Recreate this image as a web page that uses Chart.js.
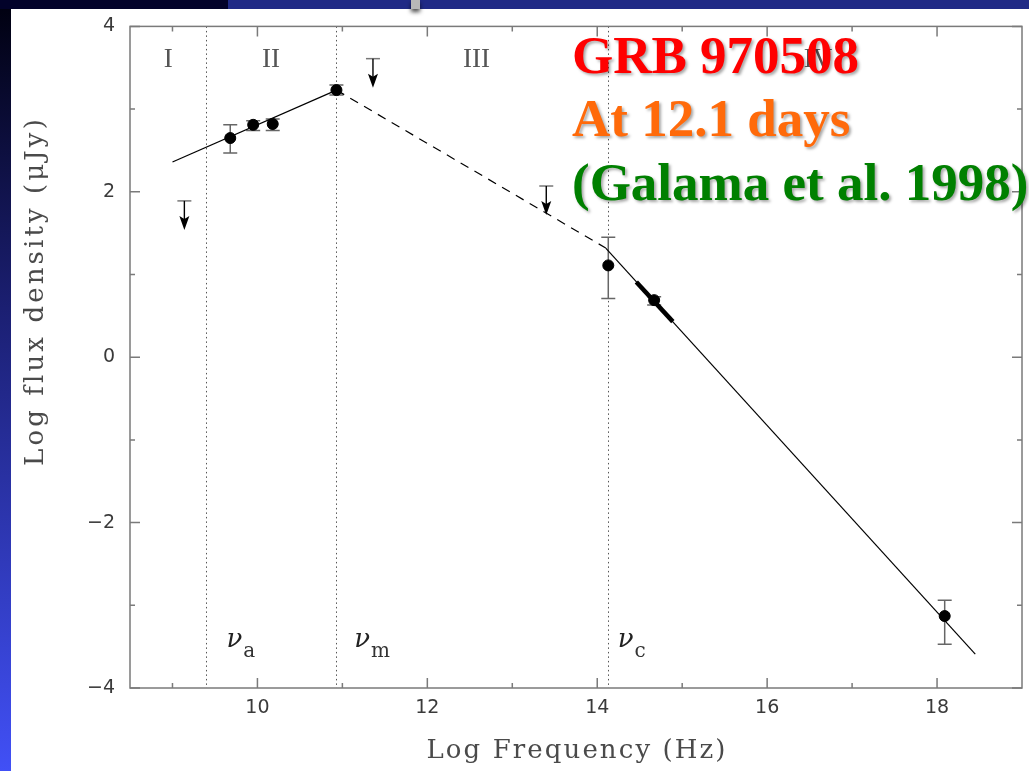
<!DOCTYPE html>
<html>
<head>
<meta charset="utf-8">
<title>GRB 970508 spectrum</title>
<script src="https://cdn.jsdelivr.net/npm/chart.js@4.4.1/dist/chart.umd.min.js"></script>
<style>
  body { margin: 0; background: #fff; }
  #wrap { position: relative; width: 1029px; height: 771px; }
</style>
</head>
<body>
<div id="wrap"><canvas id="sed" width="1029" height="771"></canvas></div>
<script>
"use strict";

// detections: log frequency, log flux and the ends of the error bars
var logNu   = [9.68, 9.95, 10.18, 10.93, 14.13, 14.67, 18.09];
var logFlux = [2.65, 2.81, 2.82, 3.23, 1.11, 0.69, -3.13];
var errLow  = [2.47, 2.74, 2.74, 3.17, 0.71, 0.63, -3.47];
var errHigh = [2.81, 2.86, 2.88, 3.29, 1.45, 0.73, -2.94];

// upper limits
var limNu   = [9.14, 11.36, 13.40];
var limFlux = [1.89, 3.61, 2.07];

// broken power law fit
var fitLowNu   = [9.00, 10.93];
var fitLowF    = [2.36, 3.23];
var fitMidNu   = [10.93, 14.10];
var fitMidF    = [3.23, 1.32];
var fitHighNu  = [14.10, 18.45];
var fitHighF   = [1.32, -3.59];
var opticalNu  = [14.46, 14.89];
var opticalF   = [0.91, 0.43];

// break frequencies and labels
var breakNu    = [9.40, 10.93, 14.13];
var breakNames = ['a', 'm', 'c'];
var breakLabelNu = [9.635, 11.14, 14.24];
var regionNames = ['I', 'II', 'III', 'IV'];
var regionNu    = [8.95, 10.16, 12.58, 16.6];

var xTicks = [9, 10, 11, 12, 13, 14, 15, 16, 17, 18];
var yTicks = [-4, -3, -2, -1, 0, 1, 2, 3, 4];

function pairs(xs, ys) {
    var out = [];
    for (var i = 0; i < xs.length; i++) {
        out.push({ x: xs[i], y: ys[i] });
    }
    return out;
}

function tickText(v) {
    if (v % 2 !== 0) return '';
    return v < 0 ? '\u2212' + Math.abs(v) : String(v);
}

var sedDecor = {
    id: 'sedDecor',
    beforeDraw: function(chart) {
        var ctx = chart.ctx;
        ctx.save();
        ctx.fillStyle = '#fff';
        ctx.fillRect(0, 0, 1029, 771);
        var g = ctx.createLinearGradient(0, 0, 0, 771);
        g.addColorStop(0, '#00000f');
        g.addColorStop(0.4, '#1b1f72');
        g.addColorStop(1, '#4150f6');
        ctx.fillStyle = g;
        ctx.fillRect(0, 0, 11, 771);
        ctx.fillStyle = '#02022a';
        ctx.fillRect(0, 0, 228, 9);
        ctx.fillStyle = '#202a86';
        ctx.fillRect(228, 0, 801, 9);
        // bit of the slide graphic poking in at the top
        ctx.shadowColor = 'rgba(0,0,0,0.7)';
        ctx.shadowBlur = 4;
        ctx.shadowOffsetY = 3;
        ctx.fillStyle = '#b8b8b8';
        ctx.fillRect(411, 0, 9, 9);
        ctx.restore();
    },
    beforeDatasetsDraw: function(chart) {
        var ctx = chart.ctx;
        var xs = chart.scales.x, ys = chart.scales.y;
        var a = chart.chartArea;
        ctx.save();

        // break frequencies
        ctx.strokeStyle = '#555';
        ctx.lineWidth = 1;
        ctx.setLineDash([1.5, 3]);
        breakNu.forEach(function(v) {
            var px = Math.round(xs.getPixelForValue(v)) + 0.5;
            ctx.beginPath();
            ctx.moveTo(px, a.top);
            ctx.lineTo(px, a.bottom);
            ctx.stroke();
        });
        ctx.setLineDash([]);

        // frame and inward ticks
        ctx.strokeStyle = '#7a7a7a';
        ctx.lineWidth = 1.5;
        ctx.strokeRect(a.left, a.top, a.right - a.left, a.bottom - a.top);
        ctx.beginPath();
        xTicks.forEach(function(v) {
            var px = xs.getPixelForValue(v), len = v % 2 === 0 ? 10 : 5;
            ctx.moveTo(px, a.bottom); ctx.lineTo(px, a.bottom - len);
            ctx.moveTo(px, a.top); ctx.lineTo(px, a.top + len);
        });
        yTicks.forEach(function(v) {
            var py = ys.getPixelForValue(v), len = v % 2 === 0 ? 10 : 5;
            ctx.moveTo(a.left, py); ctx.lineTo(a.left + len, py);
            ctx.moveTo(a.right, py); ctx.lineTo(a.right - len, py);
        });
        ctx.stroke();

        // error bars
        ctx.strokeStyle = '#666';
        ctx.lineWidth = 1.5;
        ctx.beginPath();
        for (var i = 0; i < logNu.length; i++) {
            var px = xs.getPixelForValue(logNu[i]);
            var lo = ys.getPixelForValue(errLow[i]);
            var hi = ys.getPixelForValue(errHigh[i]);
            ctx.moveTo(px, lo); ctx.lineTo(px, hi);
            ctx.moveTo(px - 7, lo); ctx.lineTo(px + 7, lo);
            ctx.moveTo(px - 7, hi); ctx.lineTo(px + 7, hi);
        }
        ctx.stroke();

        // upper limit arrows
        for (var j = 0; j < limNu.length; j++) {
            var ax = xs.getPixelForValue(limNu[j]);
            var ay = ys.getPixelForValue(limFlux[j]);
            ctx.strokeStyle = '#777';
            ctx.lineWidth = 1.5;
            ctx.beginPath();
            ctx.moveTo(ax - 7, ay); ctx.lineTo(ax + 7, ay);
            ctx.stroke();
            ctx.strokeStyle = '#000';
            ctx.lineWidth = 1.4;
            ctx.beginPath();
            ctx.moveTo(ax, ay); ctx.lineTo(ax, ay + 20);
            ctx.stroke();
            ctx.fillStyle = '#000';
            ctx.beginPath();
            ctx.moveTo(ax, ay + 29);
            ctx.lineTo(ax - 5, ay + 15);
            ctx.lineTo(ax, ay + 18);
            ctx.lineTo(ax + 5, ay + 15);
            ctx.closePath();
            ctx.fill();
        }
        ctx.restore();
    },
    afterDraw: function(chart) {
        var ctx = chart.ctx;
        var xs = chart.scales.x, ys = chart.scales.y;
        var a = chart.chartArea;
        ctx.save();

        // spectral regimes
        ctx.fillStyle = '#555';
        ctx.font = '27px "Liberation Serif"';
        ctx.textAlign = 'center';
        ctx.textBaseline = 'middle';
        regionNames.forEach(function(t, i) {
            ctx.fillText(t, xs.getPixelForValue(regionNu[i]), ys.getPixelForValue(3.6));
        });

        // nu_a, nu_m, nu_c
        ctx.textAlign = 'left';
        ctx.textBaseline = 'alphabetic';
        breakNames.forEach(function(t, i) {
            var px = xs.getPixelForValue(breakLabelNu[i]);
            ctx.fillStyle = '#222';
            ctx.font = 'italic 26px "DejaVu Serif"';
            ctx.fillText('\u03bd', px, ys.getPixelForValue(-3.51));
            var w = ctx.measureText('\u03bd').width;
            ctx.fillStyle = '#333';
            ctx.font = '20px "DejaVu Serif"';
            ctx.fillText(t, px + w + 1, ys.getPixelForValue(-3.63));
        });

        // axis titles, widely spaced like a typewriter face
        ctx.fillStyle = '#4a4a4a';
        ctx.font = '26px "DejaVu Serif"';
        ctx.textAlign = 'center';
        ctx.textBaseline = 'alphabetic';
        ctx.letterSpacing = '2.1px';
        ctx.fillText('Log Frequency (Hz)', (a.left + a.right) / 2 + 1, 758);

        ctx.save();
        ctx.translate(43, 291);
        ctx.rotate(-Math.PI / 2);
        ctx.letterSpacing = '3.1px';
        ctx.fillText('Log flux density (\u03bcJy)', 0, 0);
        ctx.restore();
        ctx.letterSpacing = '0px';

        // slide caption
        ctx.font = 'bold 53px "Liberation Serif"';
        ctx.textAlign = 'left';
        ctx.shadowColor = 'rgba(0,0,0,0.35)';
        ctx.shadowBlur = 3;
        ctx.shadowOffsetX = 2;
        ctx.shadowOffsetY = 2;
        ctx.fillStyle = '#ff0000';
        ctx.fillText('GRB 970508', 572, 73);
        ctx.fillStyle = '#ff6a0a';
        ctx.fillText('At 12.1 days', 572, 136);
        ctx.fillStyle = '#008000';
        ctx.fillText('(Galama et al. 1998)', 572, 200);
        ctx.restore();
    }
};

var lineStyle = { showLine: true, pointRadius: 0, borderColor: '#000', borderWidth: 1.2, fill: false };

var ctx = document.getElementById('sed').getContext('2d');
var sedChart = new Chart(ctx, {
    type: 'scatter',
    data: {
        datasets: [
            Object.assign({ data: pairs(fitLowNu, fitLowF) }, lineStyle),
            Object.assign({ data: pairs(fitMidNu, fitMidF), borderDash: [9, 7] }, lineStyle),
            Object.assign({ data: pairs(fitHighNu, fitHighF) }, lineStyle),
            Object.assign({ data: pairs(opticalNu, opticalF) }, lineStyle, { borderWidth: 4.5 }),
            {
                data: pairs(logNu, logFlux),
                pointRadius: 5.5,
                pointBackgroundColor: '#000',
                pointBorderColor: '#000',
                showLine: false
            }
        ]
    },
    options: {
        responsive: false,
        animation: false,
        devicePixelRatio: 1,
        layout: { padding: { top: 25, right: 7, left: 0, bottom: 0 } },
        plugins: { legend: { display: false }, tooltip: { enabled: false } },
        scales: {
            x: {
                type: 'linear',
                min: 8.5,
                max: 19,
                afterBuildTicks: function(scale) {
                    scale.ticks = xTicks.map(function(v) { return { value: v }; });
                },
                afterFit: function(scale) { scale.height = 83; },
                grid: { display: false, drawTicks: false },
                border: { display: false },
                ticks: {
                    padding: 9,
                    color: '#3a3a3a',
                    font: { family: 'DejaVu Sans', size: 19 },
                    maxRotation: 0,
                    autoSkip: false,
                    callback: tickText
                }
            },
            y: {
                type: 'linear',
                min: -4,
                max: 4,
                afterBuildTicks: function(scale) {
                    scale.ticks = yTicks.map(function(v) { return { value: v }; });
                },
                afterFit: function(scale) { scale.width = 130; },
                grid: { display: false, drawTicks: false },
                border: { display: false },
                ticks: {
                    padding: 15,
                    color: '#3a3a3a',
                    font: { family: 'DejaVu Sans', size: 19 },
                    autoSkip: false,
                    callback: tickText
                }
            }
        }
    },
    plugins: [sedDecor]
});
</script>
</body>
</html>
